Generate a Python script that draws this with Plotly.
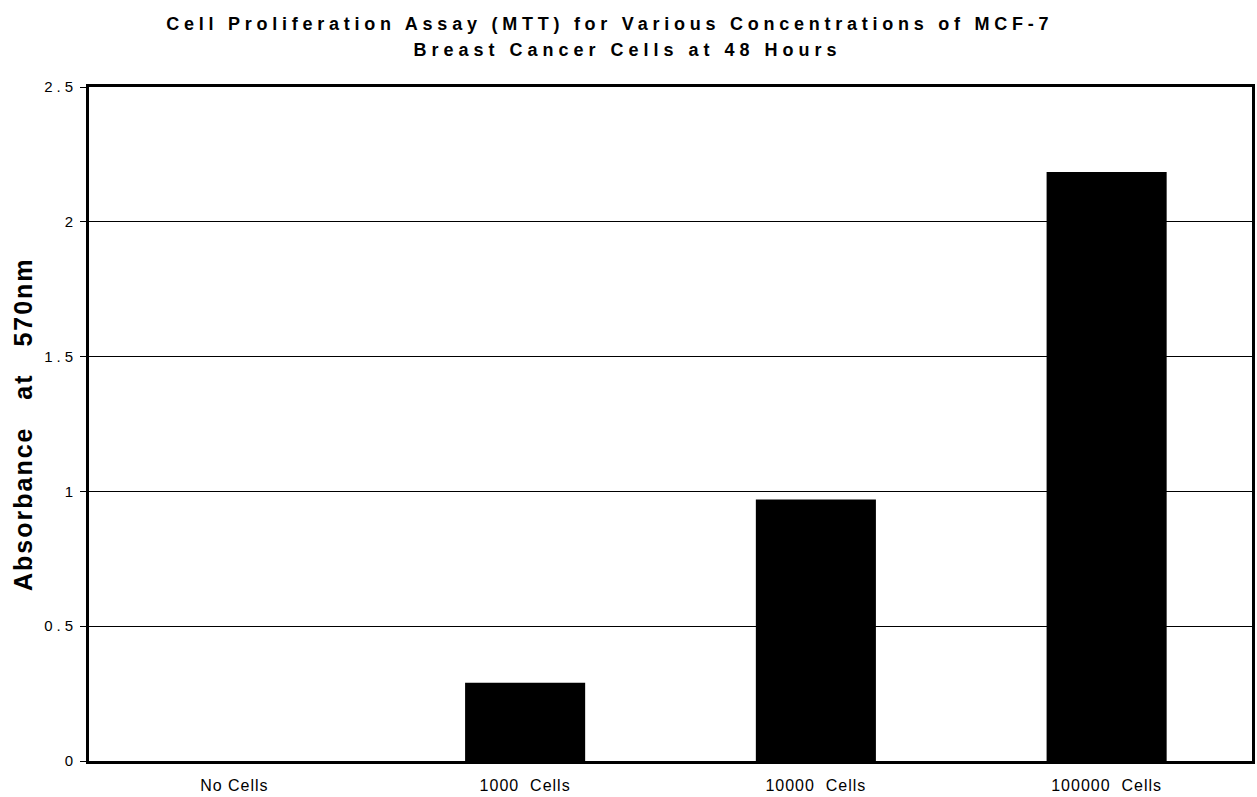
import plotly.graph_objects as go

categories = ["No Cells", "1000  Cells", "10000  Cells", "100000  Cells"]
absorbance = [0.0, 0.29, 0.97, 2.185]
y_ticks = [0, 0.5, 1, 1.5, 2, 2.5]
y_tick_labels = ["0", "0.5", "1", "1.5", "2", "2.5"]

title_line1 = "Cell Proliferation Assay (MTT) for Various Concentrations of MCF-7"
title_line2 = "Breast Cancer Cells at 48 Hours"
y_title = "Absorbance   at   570nm"

FONT = "Liberation Sans, Arial, Helvetica, sans-serif"


def nb(s):
    return s.replace(" ", "\u00a0")


# plot area in pixels: x 89..1252, y 87..761
L, R, T, B = 89, 1252, 87, 761
W, H = 1257, 797


def px_x(p):
    return (p - L) / (R - L)


def px_y(p):
    return (B - p) / (B - T)


fig = go.Figure()
fig.add_trace(go.Bar(
    x=[nb(c) for c in categories],
    y=absorbance,
    marker=dict(color="black", line=dict(width=0)),
    width=0.413,
))

annotations = [
    dict(text="<b>" + title_line1 + "</b>", xref="paper", yref="paper",
         x=px_x(609), y=px_y(24), xanchor="center", yanchor="middle",
         showarrow=False, font=dict(size=18, family=FONT, color="black")),
    dict(text="<b>" + title_line2 + "</b>", xref="paper", yref="paper",
         x=px_x(627), y=px_y(50), xanchor="center", yanchor="middle",
         showarrow=False, font=dict(size=18, family=FONT, color="black")),
    dict(text="<b>" + nb(y_title) + "</b>", xref="paper", yref="paper",
         x=px_x(23), y=0.5, xanchor="center", yanchor="middle", textangle=-90,
         showarrow=False, font=dict(size=25, family=FONT, color="black")),
]

fig.update_layout(
    width=W, height=H,
    paper_bgcolor="white", plot_bgcolor="white",
    margin=dict(l=L, r=W - R, t=T, b=H - B, autoexpand=False),
    showlegend=False,
    font=dict(family=FONT, color="black"),
    annotations=annotations,
    xaxis=dict(
        showline=True, linecolor="black", linewidth=3, mirror=True,
        showgrid=False, ticks="", tickfont=dict(size=16),
        ticklabelstandoff=8, automargin=False,
    ),
    yaxis=dict(
        range=[0, 2.5], tickvals=y_ticks, ticktext=y_tick_labels,
        showline=True, linecolor="black", linewidth=3, mirror=True,
        showgrid=True, gridcolor="black", gridwidth=1,
        zeroline=False, ticks="outside", ticklen=6, tickwidth=1, tickcolor="black",
        tickfont=dict(size=15), ticklabelstandoff=0, automargin=False,
    ),
)

post_js = """
var gd = document.getElementById('{plot_id}');
document.body.style.margin = '0';
function sp(sel, v) { gd.querySelectorAll(sel).forEach(function(e) { e.style.letterSpacing = v; }); }
sp('g.ytick text', '4px');
sp('g.xtick text', '1px');
sp('g.annotation[data-index="0"] text', '4.75px');
sp('g.annotation[data-index="1"] text', '5px');
sp('g.annotation[data-index="2"] text', '2px');
"""

fig.write_html("out.html", post_script=post_js, config={"displayModeBar": False})
